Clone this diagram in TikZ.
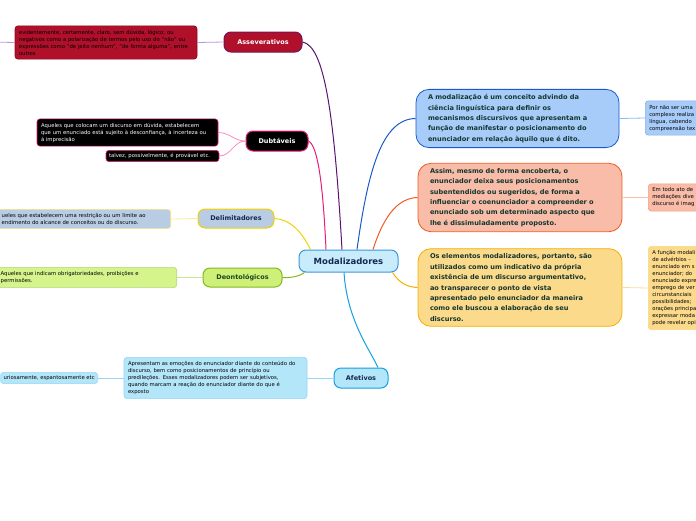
\documentclass[tikz,border=0pt]{standalone}
\usepackage{fontspec}
\setmainfont{DejaVu Sans}
\usetikzlibrary{positioning}
\definecolor{ModFill}{RGB}{200,236,252}
\definecolor{ModLine}{RGB}{60,150,220}
\definecolor{ModText}{RGB}{20,40,80}
\definecolor{IdeaText}{RGB}{20,55,45}
\definecolor{AssRed}{RGB}{176,16,42}
\definecolor{AssLine}{RGB}{90,20,110}
\definecolor{AssSoft}{RGB}{190,150,210}
\definecolor{DubPink}{RGB}{232,28,122}
\definecolor{DubSoft}{RGB}{245,140,190}
\definecolor{DelFill}{RGB}{184,204,228}
\definecolor{DelLine}{RGB}{240,210,0}
\definecolor{DelSoft}{RGB}{248,235,150}
\definecolor{DeoFill}{RGB}{206,240,120}
\definecolor{DeoLeaf}{RGB}{214,244,140}
\definecolor{DeoLine}{RGB}{130,185,30}
\definecolor{DeoSoft}{RGB}{200,230,140}
\definecolor{DeoText}{RGB}{30,70,30}
\definecolor{AfeFill}{RGB}{180,230,250}
\definecolor{AfeLine}{RGB}{20,160,225}
\definecolor{AfeSoft}{RGB}{150,215,245}
\definecolor{BlueFill}{RGB}{168,204,250}
\definecolor{BlueLine}{RGB}{25,90,200}
\definecolor{BlueSoft}{RGB}{140,185,240}
\definecolor{SalmonFill}{RGB}{248,188,168}
\definecolor{SalmonLine}{RGB}{240,90,35}
\definecolor{SalmonSoft}{RGB}{248,190,170}
\definecolor{SandFill}{RGB}{252,218,140}
\definecolor{SandLine}{RGB}{245,175,0}
\definecolor{SandSoft}{RGB}{250,220,150}
\tikzset{
  central/.style={draw=ModLine,fill=ModFill,line width=1pt,rounded corners=7pt,
    minimum width=99pt,minimum height=22pt,inner sep=0pt,text=ModText,
    font=\fontsize{8.5}{10}\selectfont\bfseries},
  branch/.style={rounded corners=7pt,line width=1pt,minimum height=20pt,inner sep=0pt,
    font=\fontsize{6.5}{8}\selectfont\bfseries},
  leaf/.style={rounded corners=3pt,line width=0.6pt,inner sep=4pt,align=left,
    font=\fontsize{5.3}{7}\selectfont},
  idea/.style={rounded corners=13pt,line width=0.8pt,inner xsep=12pt,inner ysep=5pt,
    align=left,text=IdeaText,font=\fontsize{6.6}{10.4}\selectfont\bfseries},
  link/.style={line width=1pt},
  leaflink/.style={line width=0.8pt}
}

\begin{document}
\begin{tikzpicture}[x=1pt,y=-1pt]
  \useasboundingbox (0,0) rectangle (696,520);
  \clip (0,0) rectangle (696,520);

  % centre
  \node[central] (mod) at (348.5,261) {Modalizadores};

  % left branches
  \node[branch,draw=AssLine!70!AssRed,fill=AssRed,text=white,minimum width=78pt] (ass) at (263,42) {Asseverativos};
  \node[leaf,draw=AssRed!80!black,fill=AssRed,text=black,text width=174pt] (assleaf) at (106,42.5)
    {evidentemente, certamente, claro, sem dúvida, lógico; ou\\negativos como a polarização de termos pelo uso do "não" ou\\expressões como "de jeito nenhum", "de forma alguma", entre\\outros};
  \coordinate (assout) at (-10,42);

  \node[branch,draw=DubPink,fill=black,text=white,minimum width=62pt] (dub) at (277,141) {Dubtáveis};
  \node[leaf,draw=DubPink,fill=black,text=white,text width=173pt] (dubA) at (127.5,132.5)
    {Aqueles que colocam um discurso em dúvida, estabelecem\\que um enunciado está sujeito à desconfiança, à incerteza ou\\à imprecisão};
  \node[leaf,draw=DubPink,fill=black,text=white,inner sep=3pt,text width=107pt] (dubB) at (162.5,156)
    {talvez, possivelmente, é provável etc.};

  \node[branch,draw=DelLine,fill=DelFill,text=ModText,minimum width=76pt,minimum height=19pt] (del) at (236,218.5) {Delimitadores};
  \node[leaf,draw=DelSoft!80!DelLine,fill=DelFill,text=black,text width=165pt,anchor=east] (delleaf) at (171,219)
    {ueles que estabelecem uma restrição ou um limite ao\\endimento do alcance de conceitos ou do discurso.};

  \node[branch,draw=DeoLine,fill=DeoFill,text=DeoText,minimum width=79pt,minimum height=19pt] (deo) at (242.5,277.5) {Deontológicos};
  \node[leaf,draw=DeoLine!60,fill=DeoLeaf,text=black,text width=172pt,anchor=east] (deoleaf) at (177,277.5)
    {Aqueles que indicam obrigatoriedades, proibições e\\permissões.};

  \node[branch,draw=AfeLine,fill=AfeFill,text=ModText,minimum width=54pt] (afe) at (361,378) {Afetivos};
  \node[leaf,draw=AfeSoft,fill=AfeFill,text=black,text width=175pt] (afeA) at (215.5,378)
    {Apresentam as emoções do enunciador diante do conteúdo do\\discurso, bem como posicionamentos de princípio ou\\predileções. Esses modalizadores podem ser subjetivos,\\quando marcam a reação do enunciador diante do que é\\exposto};
  \node[leaf,draw=AfeSoft,fill=AfeFill,text=black,inner sep=3pt,anchor=east] (afeB) at (98,378)
    {uriosamente, espantosamente etc};

  % right branches
  \node[idea,draw=BlueLine,fill=BlueFill,text width=179pt] (defn) at (517.5,118.5)
    {A modalização é um conceito advindo da\\ciência linguística para definir os\\mecanismos discursivos que apresentam a\\função de manifestar o posicionamento do\\enunciador em relação àquilo que é dito.};
  \node[leaf,draw=BlueLine!50,fill=BlueFill,text=black,text width=80pt,anchor=west] (defnleaf) at (645,118)
    {Por não ser uma\\complexo realiza\\língua, cabendo\\compreensão tex};

  \node[idea,draw=SalmonLine,fill=SalmonFill,text width=180pt] (hidden) at (520,197.5)
    {Assim, mesmo de forma encoberta, o\\enunciador deixa seus posicionamentos\\subentendidos ou sugeridos, de forma a\\influenciar o coenunciador a compreender o\\enunciado sob um determinado aspecto que\\lhe é dissimuladamente proposto.};
  \node[leaf,draw=SalmonLine!60,fill=SalmonFill,text=black,text width=80pt,anchor=west] (hiddenleaf) at (648,197.5)
    {Em todo ato de\\mediações dive\\discurso é imag};

  \node[idea,draw=SandLine,fill=SandFill,text width=180pt] (arg) at (520,287.5)
    {Os elementos modalizadores, portanto, são\\utilizados como um indicativo da própria\\existência de um discurso argumentativo,\\ao transparecer o ponto de vista\\apresentado pelo enunciador da maneira\\como ele buscou a elaboração de seu\\discurso.};
  \node[leaf,draw=SandLine!50,fill=SandFill,text=black,text width=80pt,anchor=west] (argleaf) at (648,288)
    {A função modali\\de advérbios – \\enunciado em s\\enunciador; do\\enunciado expre\\emprego de ver\\circunstanciais \\possibilidades; \\orações principa\\expressar moda\\pode revelar opi};

  % connectors from the centre
  \draw[link,AssLine] ([xshift=-6.5pt]mod.north) .. controls (334,110) and (324,46) .. (ass.east);
  \draw[link,DubPink] ([xshift=-22.5pt]mod.north) .. controls (323,185) and (318,146) .. (dub.east);
  \draw[link,DelLine] ([xshift=-38pt]mod.north) .. controls (302,232) and (290,219) .. (del.east);
  \draw[link,DeoLine] ([xshift=6pt]mod.south west) .. controls (300,276) and (292,278) .. (deo.east);
  \draw[link,AfeLine] ([xshift=-4.5pt]mod.south) .. controls (347,320) and (370,350) .. ([xshift=17pt]afe.north);
  \draw[link,BlueLine] ([xshift=8.5pt]mod.north) .. controls (368,170) and (382,119) .. (defn.west);
  \draw[link,SalmonLine] ([xshift=24.5pt]mod.north) .. controls (385,212) and (400,198) .. (hidden.west);
  \draw[link,SandLine] ([xshift=-6pt]mod.south east) .. controls (400,284) and (408,287) .. (arg.west);

  % connectors to the leaves
  \draw[leaflink,AssSoft] (ass.west) -- (assleaf.east);
  \draw[leaflink,AssSoft] (assleaf.west) -- (assout);
  \draw[leaflink,DubSoft] (dub.west) to[out=180,in=0] (dubA.east);
  \draw[leaflink,DubSoft] (dub.west) to[out=180,in=0] (dubB.east);
  \draw[leaflink,DelSoft] (del.west) -- (delleaf.east);
  \draw[leaflink,DeoSoft] (deo.west) -- (deoleaf.east);
  \draw[leaflink,AfeSoft] (afe.west) -- (afeA.east);
  \draw[leaflink,AfeSoft] (afeA.west) -- (afeB.east);
  \draw[leaflink,BlueSoft] (defn.east) -- (defnleaf.west);
  \draw[leaflink,SalmonSoft] (hidden.east) -- (hiddenleaf.west);
  \draw[leaflink,SandSoft] (arg.east) -- (argleaf.west);
\end{tikzpicture}
\end{document}
